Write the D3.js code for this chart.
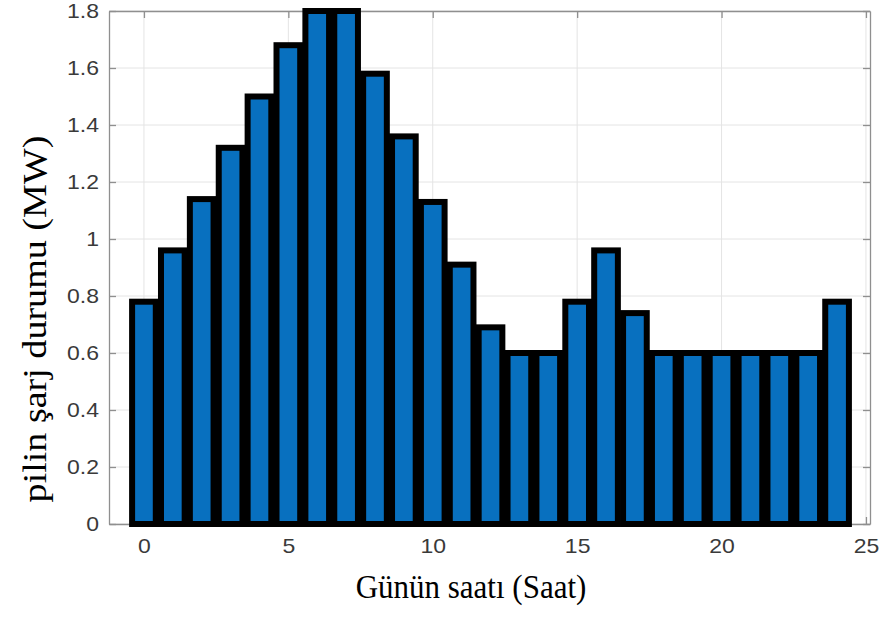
<!DOCTYPE html>
<html>
<head>
<meta charset="utf-8">
<script src="https://cdn.jsdelivr.net/npm/d3@7/dist/d3.min.js"></script>
<style>
  body { margin: 0; background: #ffffff; }
  svg { display: block; }
</style>
</head>
<body>
<svg id="chart" width="885" height="623"></svg>
<script>
// Battery state of charge for each hour of the day
const hours = [0, 1, 2, 3, 4, 5, 6, 7, 8, 9, 10, 11, 12, 13, 14, 15, 16, 17, 18, 19, 20, 21, 22, 23, 24];
const charge = [0.78, 0.96, 1.14, 1.32, 1.50, 1.68, 1.80, 1.80, 1.58, 1.36, 1.13, 0.91, 0.69,
                0.60, 0.60, 0.78, 0.96, 0.74, 0.60, 0.60, 0.60, 0.60, 0.60, 0.60, 0.78];
const xTicks = [0, 5, 10, 15, 20, 25];
const xTickLabels = ["0", "5", "10", "15", "20", "25"];
const yTicks = [0, 0.2, 0.4, 0.6, 0.8, 1.0, 1.2, 1.4, 1.6, 1.8];
const yTickLabels = ["0", "0.2", "0.4", "0.6", "0.8", "1", "1.2", "1.4", "1.6", "1.8"];
const xTitle = "Günün saatı (Saat)";
const yTitle = "pilin şarj durumu (MW)";

// Layout
const plot = { left: 109, right: 870, top: 11, bottom: 524 };
const xLimits = [-1.21, 25.14];
const yLimits = [0, 1.8];
const barWidth = 0.82;
const tickLen = 7;
const axisColor = "#8f8f8f";
const gridColor = "#e4e4e4";
const labelColor = "#3a3a3a";
const barFill = "#0870bf";

const svg = d3.select("#chart");

const x = d3.scaleLinear().domain(xLimits).range([plot.left, plot.right]);
const y = d3.scaleLinear().domain(yLimits).range([plot.bottom, plot.top]);

// Grid
const grid = svg.append("g").attr("class", "grid");
grid.selectAll("line.vx").data(xTicks).join("line")
  .attr("x1", d => x(d)).attr("x2", d => x(d))
  .attr("y1", plot.top).attr("y2", plot.bottom)
  .attr("stroke", gridColor).attr("stroke-width", 1);
grid.selectAll("line.hy").data(yTicks).join("line")
  .attr("x1", plot.left).attr("x2", plot.right)
  .attr("y1", d => y(d)).attr("y2", d => y(d))
  .attr("stroke", gridColor).attr("stroke-width", 1);

// Axes (ticks point inward on all four sides)
const tickLabelStyle = sel => sel
  .attr("font-family", "'Liberation Sans', Arial, sans-serif")
  .attr("font-size", 20)
  .attr("fill", labelColor);

const bottomAxis = svg.append("g")
  .attr("transform", `translate(0,${plot.bottom})`)
  .call(d3.axisBottom(x).tickValues(xTicks).tickFormat((d, i) => xTickLabels[i])
    .tickSizeInner(-tickLen).tickSizeOuter(0).tickPadding(15));
bottomAxis.selectAll("text").call(tickLabelStyle).attr("transform", "scale(1.15,1)");

const topAxis = svg.append("g")
  .attr("transform", `translate(0,${plot.top})`)
  .call(d3.axisTop(x).tickValues(xTicks).tickFormat("")
    .tickSizeInner(-tickLen).tickSizeOuter(0));

const leftAxis = svg.append("g")
  .attr("transform", `translate(${plot.left},0)`)
  .call(d3.axisLeft(y).tickValues(yTicks).tickFormat((d, i) => yTickLabels[i])
    .tickSizeInner(-tickLen).tickSizeOuter(0).tickPadding(10));
leftAxis.selectAll("text").call(tickLabelStyle)
  .attr("x", -10 / 1.15).attr("transform", "scale(1.15,1)");

const rightAxis = svg.append("g")
  .attr("transform", `translate(${plot.right},0)`)
  .call(d3.axisRight(y).tickValues(yTicks).tickFormat("")
    .tickSizeInner(-tickLen).tickSizeOuter(0));

svg.selectAll(".domain, .tick line")
  .attr("stroke", axisColor).attr("stroke-width", 1.3);

// Bars
svg.append("g").attr("class", "bars")
  .selectAll("rect").data(hours).join("rect")
  .attr("x", (d) => x(d - barWidth / 2))
  .attr("width", (d) => x(d + barWidth / 2) - x(d - barWidth / 2))
  .attr("y", (d, i) => y(charge[i]))
  .attr("height", (d, i) => y(0) - y(charge[i]))
  .attr("fill", barFill)
  .attr("stroke", "#000000")
  .attr("stroke-width", 6)
  .attr("stroke-linejoin", "miter");

// Axis titles
svg.append("g")
  .attr("transform", "translate(471,598) scale(1,1.12)")
  .append("text")
  .attr("text-anchor", "middle")
  .attr("font-family", "'Liberation Serif', 'Times New Roman', serif")
  .attr("font-size", 31)
  .attr("fill", "#000")
  .text(xTitle);

svg.append("g")
  .attr("transform", "translate(46,319) rotate(-90) scale(1.12,1)")
  .append("text")
  .attr("text-anchor", "middle")
  .attr("font-family", "'Liberation Serif', 'Times New Roman', serif")
  .attr("font-size", 34)
  .attr("fill", "#000")
  .text(yTitle);
</script>
</body>
</html>
